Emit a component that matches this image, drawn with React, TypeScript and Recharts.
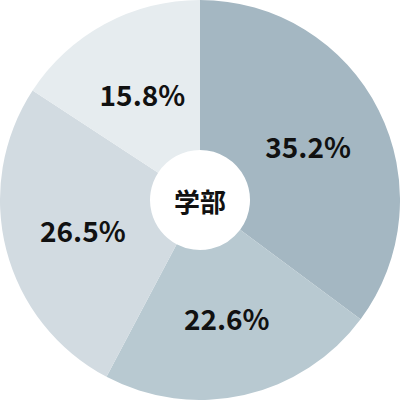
import React from "react";
import { PieChart, Pie, Cell } from "recharts";

const categories = ["A", "B", "C", "D"];
const values = [35.2, 22.6, 26.5, 15.8];
const colors = ["#a4b7c2", "#b8c9d1", "#d2dbe1", "#e6ecef"];
const centerTitle = "学部";

const data = categories.map((name, i) => ({ name, value: values[i] }));

const RAD = Math.PI / 180;

const renderLabel = (props: any) => {
  const { cx, cy, midAngle, value } = props;
  const r = 121;
  const x = cx + r * Math.cos(-midAngle * RAD);
  const y = cy + r * Math.sin(-midAngle * RAD);
  return (
    <text
      x={x}
      y={y}
      textAnchor="middle"
      dominantBaseline="central"
      fill="#111"
      fontSize={28}
      fontWeight={700}
      fontFamily="'Noto Sans CJK JP', 'Noto Sans', sans-serif"
    >
      {value.toFixed(1)}%
    </text>
  );
};

export default function App() {
  return (
    <div style={{ position: "absolute", left: 0, top: 0, width: 400, height: 400 }}>
      <PieChart width={400} height={400} margin={{ top: 0, right: 0, bottom: 0, left: 0 }}>
        <Pie
          data={data}
          dataKey="value"
          cx={200}
          cy={200}
          innerRadius={50}
          outerRadius={200}
          startAngle={90}
          endAngle={-270}
          stroke="none"
          label={renderLabel}
          labelLine={false}
          isAnimationActive={false}
        >
          {data.map((d, i) => (
            <Cell key={d.name} fill={colors[i]} />
          ))}
        </Pie>
        <text
          x={200}
          y={200}
          textAnchor="middle"
          dominantBaseline="central"
          fill="#111"
          fontSize={26}
          fontWeight={700}
          fontFamily="'Noto Sans CJK JP', sans-serif"
        >
          {centerTitle}
        </text>
      </PieChart>
    </div>
  );
}
